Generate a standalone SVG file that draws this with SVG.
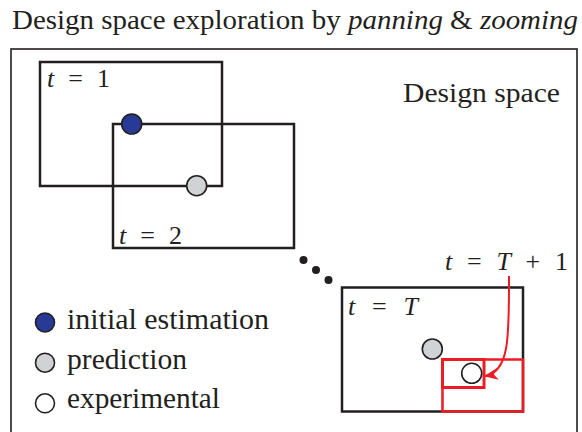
<svg xmlns="http://www.w3.org/2000/svg" width="582" height="432" viewBox="0 0 582 432">
<defs>
<style>
text{font-family:'Liberation Serif','Times New Roman',Times,serif;fill:#231f20}
.box{fill:none;stroke:#231f20;stroke-width:2.5}
.red{fill:none;stroke:#ed1c24}
.pt{stroke:#231f20;stroke-width:1.6}
.blue{fill:#263a96}
.gray{fill:#d1d2d4}
.white{fill:#fff}
</style>
<marker id="ah" viewBox="0 0 14 12" refX="13" refY="6" markerWidth="14" markerHeight="12" markerUnits="userSpaceOnUse" orient="auto">
<path d="M0,0 L14,6 L0,12 L4,6 Z" fill="#ed1c24"/>
</marker>
</defs>
<rect width="582" height="432" fill="#fff"/>
<text x="12" y="29" font-size="27" textLength="566" lengthAdjust="spacingAndGlyphs">Design space exploration by <tspan font-style="italic">panning</tspan> &amp; <tspan font-style="italic">zooming</tspan></text>
<rect x="11" y="49" width="566" height="400" fill="none" stroke="#231f20" stroke-width="1.6"/>
<text x="403" y="102" font-size="27" textLength="157" lengthAdjust="spacingAndGlyphs">Design space</text>

<g id="frame-t1">
<rect class="box" x="40" y="62" width="182" height="124"/>
<text x="47" y="87" font-size="26" textLength="63" lengthAdjust="spacing"><tspan font-style="italic">t</tspan> = 1</text>
</g>
<g id="frame-t2">
<rect class="box" x="113" y="124" width="181" height="124"/>
<text x="119" y="244" font-size="26" textLength="63" lengthAdjust="spacing"><tspan font-style="italic">t</tspan> = 2</text>
</g>
<g id="initial-point"><circle class="pt blue" cx="131.7" cy="124" r="10"/></g>
<g id="prediction-point-1"><circle class="pt gray" cx="196.7" cy="185.7" r="10"/></g>

<g id="ellipsis">
<circle cx="303.5" cy="260" r="4" fill="#231f20"/>
<circle cx="316" cy="270" r="4" fill="#231f20"/>
<circle cx="328.5" cy="280" r="4" fill="#231f20"/>
</g>

<g id="frame-tT">
<rect class="box" x="342" y="287.5" width="181" height="124"/>
<text x="348" y="315" font-size="26" textLength="70" lengthAdjust="spacing"><tspan font-style="italic">t</tspan> = <tspan font-style="italic">T</tspan></text>
</g>
<g id="prediction-point-T"><circle class="pt gray" cx="432.3" cy="349" r="10"/></g>
<g id="zoom-region">
<rect class="red" x="442.5" y="359.5" width="80.5" height="52" stroke-width="2.5"/>
</g>
<g id="frame-tT1">
<rect class="red" x="442.5" y="359.5" width="41.5" height="28" stroke-width="3"/>
<circle class="pt white" cx="471.7" cy="373.3" r="10"/>
<text x="445" y="270" font-size="26" textLength="123" lengthAdjust="spacing"><tspan font-style="italic">t</tspan> = <tspan font-style="italic">T</tspan> + 1</text>
</g>

<g id="connectors">
<path d="M509,276 C509,335 510,372 485,376" fill="none" stroke="#ed1c24" stroke-width="2" marker-end="url(#ah)"/>
</g>

<g id="legend">
<circle class="pt blue" cx="45" cy="322.5" r="9.5"/>
<text x="67" y="329" font-size="29" textLength="202" lengthAdjust="spacingAndGlyphs">initial estimation</text>
<circle class="pt gray" cx="45" cy="362.7" r="9.5"/>
<text x="67" y="369" font-size="29" textLength="120" lengthAdjust="spacingAndGlyphs">prediction</text>
<circle class="pt white" cx="45" cy="403.3" r="9.5"/>
<text x="67" y="408" font-size="29" textLength="153" lengthAdjust="spacingAndGlyphs">experimental</text>
</g>
</svg>
